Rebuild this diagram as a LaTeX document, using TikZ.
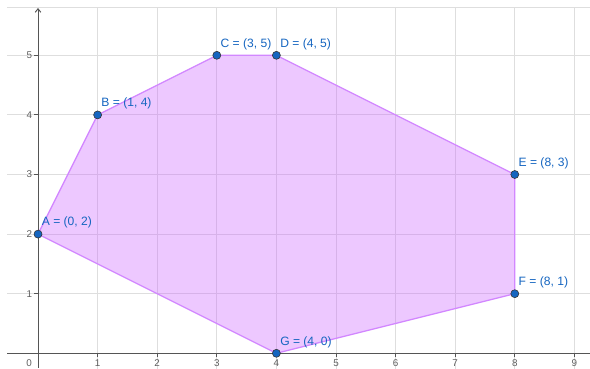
\documentclass[tikz,border=0pt]{standalone}
\usepackage{fontspec}
\setmainfont{Liberation Sans}
\usetikzlibrary{arrows.meta}
\definecolor{gridc}{RGB}{222,222,222}
\definecolor{axisc}{RGB}{85,85,85}
\definecolor{numc}{RGB}{95,95,95}
\definecolor{polyc}{RGB}{204,102,255}
\definecolor{edgec}{RGB}{210,135,255}
\definecolor{ptc}{RGB}{21,101,192}
\tikzset{
  gridline/.style={draw=gridc, line width=0.7pt},
  axisline/.style={draw=axisc, line width=0.7pt},
  ticknum/.style={text=numc, font=\fontsize{7}{8}\selectfont, inner sep=0pt},
  ptdot/.style={circle, fill=ptc, draw=black!80, line width=0.4pt, minimum size=5.7pt, inner sep=0pt},
  ptlabel/.style={text=ptc, font=\fontsize{8.6}{10}\selectfont, inner sep=0pt, anchor=south west},
}
\begin{document}
\begin{tikzpicture}[x=1.49cm,y=1.49cm]
\useasboundingbox (-0.638,-0.263) rectangle (9.262,5.928);
% grid
\foreach \i in {1,...,9} \draw[gridline] (\i,-0.263) -- (\i,5.794);
\foreach \j in {1,...,5} \draw[gridline] (-0.52,\j) -- (9.262,\j);
\draw[gridline] (-0.52,5.794) -- (9.262,5.794);
% polygon
\coordinate (A) at (0,2);
\coordinate (B) at (1,4);
\coordinate (C) at (3,5);
\coordinate (D) at (4,5);
\coordinate (E) at (8,3);
\coordinate (F) at (8,1);
\coordinate (G) at (4,0);
\fill[polyc, fill opacity=0.36] (A) -- (B) -- (C) -- (D) -- (E) -- (F) -- (G) -- cycle;
\draw[edgec, line width=0.9pt, line join=round] (A) -- (B) -- (C) -- (D) -- (E) -- (F) -- (G) -- cycle;
% axes
\coordinate (xs) at (-0.52,0);
\coordinate (xe) at (9.262,0);
\coordinate (ys) at (0,-0.24);
\coordinate (ye) at (0,5.794);
\draw[axisline] (xs) -- (xe);
\draw[axisline, -{Straight Barb[length=2.5pt,width=4pt]}] (ys) -- (ye);
\foreach \i in {1,...,9} {
  \draw[axisline] (\i,0) -- (\i,-0.06);
  \node[ticknum] at (\i,-0.158) {\i};
}
\node[ticknum] at (-0.15,-0.158) {0};
\foreach \j in {1,...,5} {
  \draw[axisline] (0,\j) -- (-0.06,\j);
  \node[ticknum] at (-0.145,\j) {\j};
}
% points
\foreach \p/\t in {A/{A = (0, 2)},B/{B = (1, 4)},C/{C = (3, 5)},D/{D = (4, 5)},E/{E = (8, 3)},F/{F = (8, 1)},G/{G = (4, 0)}} {
  \node[ptdot] (p\p) at (\p) {};
  \node[ptlabel] (l\p) at ([shift={(0.06,0.09)}]\p) {\t};
}
\end{tikzpicture}
\end{document}
